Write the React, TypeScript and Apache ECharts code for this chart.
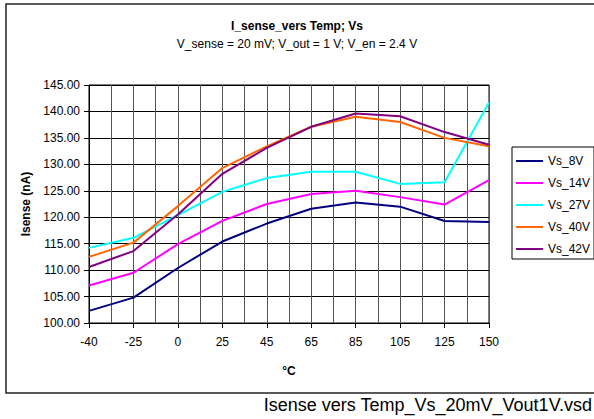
import React, { useEffect, useRef } from "react";
import * as echarts from "echarts";

const categories = ["-40", "-25", "0", "25", "45", "65", "85", "105", "125", "150"];
const vs8V = [102.3, 104.8, 110.4, 115.4, 118.8, 121.6, 122.8, 122.0, 119.3, 119.1];
const vs14V = [107.1, 109.5, 114.9, 119.3, 122.5, 124.4, 125.0, 123.8, 122.4, 127.0];
const vs27V = [114.2, 116.1, 120.4, 124.8, 127.4, 128.6, 128.6, 126.3, 126.6, 141.7];
const vs40V = [112.5, 115.2, 122.1, 129.3, 133.4, 137.1, 139.0, 138.0, 135.0, 133.4];
const vs42V = [110.6, 113.6, 120.5, 128.2, 133.1, 137.1, 139.6, 139.1, 136.1, 133.7];
const seriesNames = ["Vs_8V", "Vs_14V", "Vs_27V", "Vs_40V", "Vs_42V"];
const seriesColors = ["#000080", "#FF00FF", "#00FFFF", "#FF6600", "#800080"];
const seriesValues = [vs8V, vs14V, vs27V, vs40V, vs42V];
const minorSlots = Array.from({ length: categories.length * 2 - 1 }, (_, i) => String(i));

const FONT = "'Liberation Sans', Arial, sans-serif";

export default function App() {
  const ref = useRef<HTMLDivElement>(null);
  useEffect(() => {
    if (!ref.current) return;
    const chart = echarts.init(ref.current, undefined, { renderer: "svg" });
    chart.setOption({
      animation: false,
      backgroundColor: "#ffffff",
      textStyle: { fontFamily: FONT, color: "#000" },
      title: {
        text: "I_sense_vers Temp; Vs",
        subtext: "V_sense = 20 mV; V_out = 1 V; V_en = 2.4 V",
        left: "center",
        top: 15,
        itemGap: 6,
        textStyle: { fontFamily: FONT, fontSize: 12, fontWeight: "bold", color: "#000" },
        subtextStyle: { fontFamily: FONT, fontSize: 12, color: "#000" },
      },
      legend: {
        orient: "vertical",
        left: 512,
        top: 147,
        padding: [8, 4, 4, 4],
        icon: "rect",
        itemWidth: 27,
        itemHeight: 2,
        itemGap: 10,
        borderColor: "#000",
        borderWidth: 1,
        backgroundColor: "#fff",
        textStyle: { fontFamily: FONT, fontSize: 12, color: "#000" },
        data: seriesNames,
      },
      grid: { left: 89, top: 85, right: 105, bottom: 96, show: true, borderColor: "#000", borderWidth: 1 },
      xAxis: [
        {
          type: "category",
          data: categories,
          boundaryGap: false,
          name: "°C",
          nameLocation: "middle",
          nameGap: 42,
          nameTextStyle: { fontFamily: FONT, fontSize: 12, fontWeight: "bold", color: "#000" },
          axisLine: { lineStyle: { color: "#000", width: 1 } },
          axisTick: { show: true, length: 5, lineStyle: { color: "#000" } },
          axisLabel: { fontFamily: FONT, fontSize: 12, color: "#000", margin: 13 },
          splitLine: { show: true, lineStyle: { color: "#000", width: 1 } },
        },
        {
          type: "category",
          data: minorSlots,
          boundaryGap: false,
          show: true,
          position: "bottom",
          axisLine: { show: false },
          axisTick: { show: false },
          axisLabel: { show: false },
          splitLine: { show: true, lineStyle: { color: "#555", width: 1 } },
          z: 0,
        },
      ],
      yAxis: {
        type: "value",
        min: 100,
        max: 145,
        interval: 5,
        name: "Isense (nA)",
        nameLocation: "middle",
        nameRotate: 90,
        nameGap: 52,
        nameTextStyle: { fontFamily: FONT, fontSize: 12, fontWeight: "bold", color: "#000" },
        axisLine: { show: true, lineStyle: { color: "#000", width: 1 } },
        axisTick: { show: true, length: 5, lineStyle: { color: "#000" } },
        axisLabel: {
          fontFamily: FONT,
          fontSize: 12,
          color: "#000",
          margin: 9,
          formatter: (v: number) => v.toFixed(2),
        },
        splitLine: { show: true, lineStyle: { color: "#000", width: 1 } },
      },
      series: seriesNames.map((name, i) => ({
        name,
        type: "line",
        xAxisIndex: 0,
        data: seriesValues[i],
        symbol: "none",
        color: seriesColors[i],
        itemStyle: { color: seriesColors[i] },
        lineStyle: { color: seriesColors[i], width: 2 },
        z: 5,
      })),
      graphic: [
        {
          type: "rect",
          silent: true,
          z: -10,
          shape: { x: 6, y: 4, width: 640, height: 389 },
          style: { fill: "none", stroke: "#222", lineWidth: 1.5 },
        },
        {
          type: "text",
          silent: true,
          x: 592,
          y: 405,
          style: {
            text: "Isense vers Temp_Vs_20mV_Vout1V.vsd",
            fontFamily: FONT,
            fontSize: 18,
            fill: "#000",
            align: "right",
            verticalAlign: "middle",
          },
        },
      ],
    });
    return () => chart.dispose();
  }, []);
  return (
    <div
      ref={ref}
      style={{ position: "fixed", left: 0, top: 0, width: 594, height: 419 }}
    />
  );
}
